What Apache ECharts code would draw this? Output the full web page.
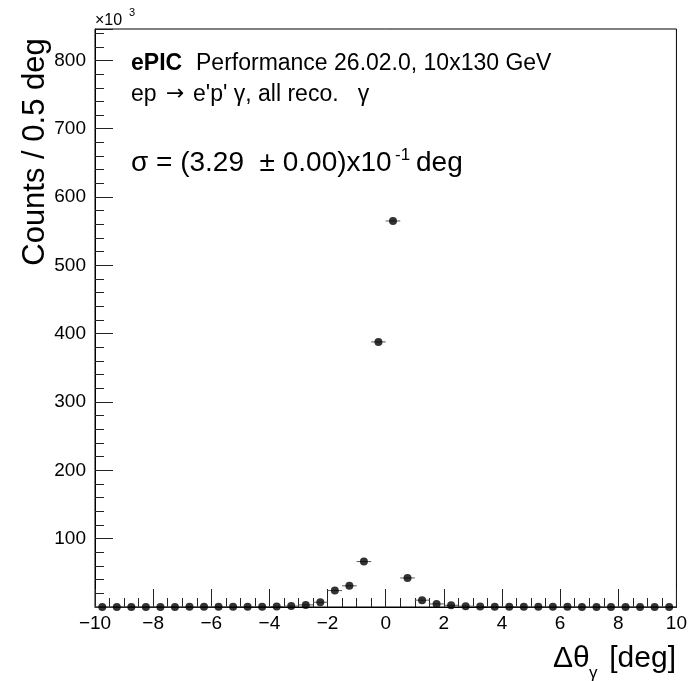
<!DOCTYPE html>
<html><head><meta charset="utf-8">
<script src="https://cdn.jsdelivr.net/npm/echarts@6/dist/echarts.min.js"></script>
<style>html,body{margin:0;padding:0;background:#fff}#c{width:690px;height:681px}</style>
</head><body><div id="c"></div>
<script>
// Bin centers (deg), bin width 0.5 deg
const binCenters = [-9.75,-9.25,-8.75,-8.25,-7.75,-7.25,-6.75,-6.25,-5.75,-5.25,
  -4.75,-4.25,-3.75,-3.25,-2.75,-2.25,-1.75,-1.25,-0.75,-0.25,
  0.25,0.75,1.25,1.75,2.25,2.75,3.25,3.75,4.25,4.75,
  5.25,5.75,6.25,6.75,7.25,7.75,8.25,8.75,9.25,9.75];
// Counts per bin in units of 10^3
const counts = [0.1,0.1,0.1,0.1,0.15,0.15,0.2,0.2,0.25,0.3,
  0.4,0.5,0.7,1.3,3.0,7.0,24,31,66.5,388,
  565,42.5,10,4.5,2.5,1.2,0.7,0.5,0.4,0.3,
  0.25,0.2,0.2,0.15,0.15,0.1,0.1,0.1,0.1,0.1];
const binWidth = 0.5;
const xMin = -10, xMax = 10, xStep = 2;
const yMin = 0, yMax = 846, yStep = 100, yMinorStep = 20;

const FONT = '"Liberation Sans", Arial, Helvetica, sans-serif';
const points = binCenters.map((x, i) => [x, counts[i]]);
const minus = v => String(v).replace('-', '\u2212');

const chart = echarts.init(document.getElementById('c'), null, {renderer: 'canvas'});
chart.setOption({
  animation: false,
  backgroundColor: '#fff',
  grid: {left: 95, right: 11, top: 29, bottom: 74, show: true, borderColor: '#000', borderWidth: 1, backgroundColor: 'transparent'},
  xAxis: {
    type: 'value', min: xMin, max: xMax, interval: xStep,
    axisLine: {show: true, onZero: false, lineStyle: {color: '#000', width: 1}},
    axisTick: {show: true, inside: true, length: 18, lineStyle: {color: '#222', width: 1}},
    minorTick: {show: true, splitNumber: 4, length: 9, lineStyle: {color: '#222', width: 1}},
    splitLine: {show: false},
    axisLabel: {fontFamily: FONT, fontSize: 19, color: '#000', margin: 7, formatter: v => minus(v)}
  },
  yAxis: [{
    type: 'value', min: yMin, max: yMax, interval: yStep, position: 'left',
    axisLine: {show: true, onZero: false, lineStyle: {color: '#000', width: 1}},
    axisTick: {show: true, inside: true, length: 18, lineStyle: {color: '#222', width: 1}},
    splitLine: {show: false},
    axisLabel: {fontFamily: FONT, fontSize: 19, color: '#000', margin: 9,
      formatter: v => (v > 0 && v % 100 === 0) ? String(v) : ''}
  }, {
    type: 'value', min: yMin, max: yMax, interval: yMinorStep, position: 'left', offset: 0,
    axisLine: {show: false, onZero: false},
    axisTick: {show: true, inside: true, length: 9, lineStyle: {color: '#222', width: 1}},
    splitLine: {show: false},
    axisLabel: {show: false}
  }],
  series: [{
    type: 'custom',
    renderItem: (params, api) => {
      const x = api.value(0), y = api.value(1);
      const a = api.coord([x - binWidth / 2, y]);
      const b = api.coord([x + binWidth / 2, y]);
      return {type: 'line', shape: {x1: a[0], y1: a[1], x2: b[0], y2: b[1]},
        style: {stroke: '#555', lineWidth: 1}};
    },
    data: points, z: 2, silent: true
  }, {
    type: 'scatter', data: points, symbol: 'circle', symbolSize: 8,
    itemStyle: {color: '#000'}, z: 3, silent: true
  }],
  graphic: [
    {type: 'text', x: 95, y: 21, style: {text: '\u00d710', font: '16px ' + FONT, fill: '#000', verticalAlign: 'middle'}},
    {type: 'text', x: 129, y: 13, style: {text: '3', font: '11px ' + FONT, fill: '#000', verticalAlign: 'middle'}},
    {type: 'text', x: 131, y: 64, style: {text: 'ePIC', font: 'bold 23px ' + FONT, fill: '#000', verticalAlign: 'middle'}},
    {type: 'text', x: 196, y: 64, style: {text: 'Performance 26.02.0, 10x130 GeV', font: '23px ' + FONT, fill: '#000', verticalAlign: 'middle'}},
    {type: 'text', x: 131, y: 95, style: {text: 'ep', font: '23px ' + FONT, fill: '#000', verticalAlign: 'middle'}},
    {type: 'text', x: 166, y: 94, style: {text: '\u2192', font: '22px "DejaVu Sans", ' + FONT, fill: '#000', verticalAlign: 'middle'}},
    {type: 'text', x: 193, y: 95, style: {text: 'e\'p\' \u03b3, all reco.   \u03b3', font: '23px ' + FONT, fill: '#000', verticalAlign: 'middle'}},
    {type: 'text', x: 131, y: 163, style: {text: '\u03c3 = (3.29  \u00b1 0.00)x10', font: '28px ' + FONT, fill: '#000', verticalAlign: 'middle'}},
    {type: 'text', x: 395, y: 155, style: {text: '-1', font: '17px ' + FONT, fill: '#000', verticalAlign: 'middle'}},
    {type: 'text', x: 416, y: 163, style: {text: 'deg', font: '28px ' + FONT, fill: '#000', verticalAlign: 'middle'}},
    {type: 'text', x: 35, y: 152, rotation: Math.PI / 2, style: {text: 'Counts / 0.5 deg', font: '31px ' + FONT, fill: '#000', align: 'center', verticalAlign: 'middle'}},
    {type: 'text', x: 553, y: 659, style: {text: '\u0394\u03b8', font: '30px ' + FONT, fill: '#000', verticalAlign: 'middle'}},
    {type: 'text', x: 589, y: 673, style: {text: '\u03b3', font: '17px ' + FONT, fill: '#000', verticalAlign: 'middle'}},
    {type: 'text', x: 676, y: 659, style: {text: '[deg]', font: '30px ' + FONT, fill: '#000', align: 'right', verticalAlign: 'middle'}}
  ]
});
</script>
</body></html>
